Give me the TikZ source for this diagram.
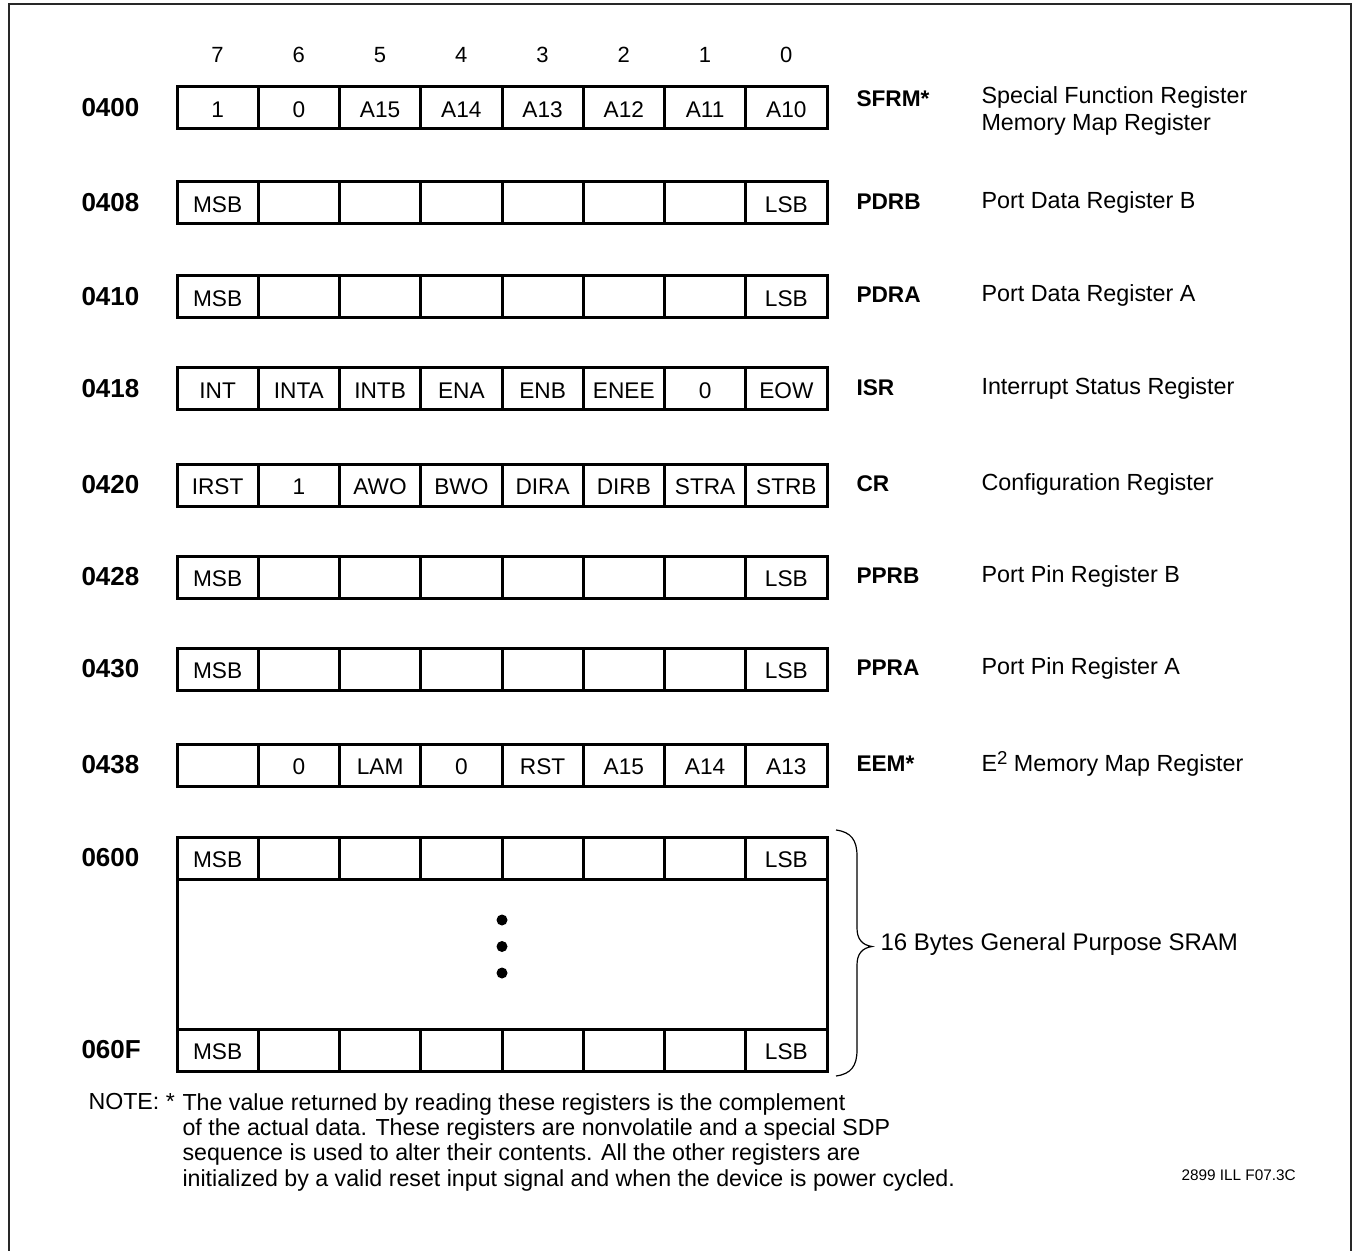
\documentclass[tikz,border=0pt]{standalone}
\usepackage{fontspec}
\setmainfont{Liberation Sans}

\tikzset{every picture/.style={line width=0.75pt}}
\tikzset{
  regline/.style={line width=2.25},
  celltxt/.style={inner sep=0.75pt, font=\fontsize{17}{20}\selectfont},
  bittxt/.style={inner sep=0.75pt, font=\fontsize{16.5}{19}\selectfont},
  adrtxt/.style={anchor=west, inner sep=0.75pt, font=\fontsize{19.5}{22}\selectfont\bfseries},
  regname/.style={anchor=west, inner sep=0.75pt, font=\fontsize{17}{20}\selectfont\bfseries},
  regdesc/.style={anchor=west, inner sep=0.75pt, align=left, font=\fontsize{17.5}{20.5}\selectfont},
  notetxt/.style={anchor=north west, inner sep=0.75pt, align=left, font=\fontsize{17.4}{19}\selectfont}
}

\begin{document}
\begin{tikzpicture}[x=0.75pt,y=0.75pt,yscale=-1,xscale=1]
\useasboundingbox (0,0) rectangle (1359,1251);

% outer frame, open at the bottom
\draw [color={rgb, 255:red, 40; green, 40; blue, 40 }][line width=1.5] (9,1251) -- (9,4) -- (1351,4) -- (1351,1251);

% bit numbers
\foreach \b [count=\i from 0] in {7,6,5,4,3,2,1,0}
  \draw (217.6+81.25*\i,55) node [bittxt] (bit\b) {\b};

% register rows
\foreach \y/\adr/\cells in {
    87/0400/{1,0,A15,A14,A13,A12,A11,A10},
    182/0408/{MSB,,,,,,,LSB},
    276/0410/{MSB,,,,,,,LSB},
    368/0418/{INT,INTA,INTB,ENA,ENB,ENEE,0,EOW},
    464/0420/{IRST,1,AWO,BWO,DIRA,DIRB,STRA,STRB},
    556/0428/{MSB,,,,,,,LSB},
    648/0430/{MSB,,,,,,,LSB},
    744/0438/{,0,LAM,0,RST,A15,A14,A13},
    837/0600/{MSB,,,,,,,LSB},
    1029/060F/{MSB,,,,,,,LSB}} {
  \draw [regline] (177,\y) rectangle (827,\y+42);
  \foreach \i in {1,...,7}
    \draw [regline] (177+81.25*\i,\y) -- (177+81.25*\i,\y+42);
  \foreach \c [count=\i from 0] in \cells
    \draw (217.6+81.25*\i,\y+22.5) node [celltxt] (c\adr-\i) {\c};
  \draw (80,\y+21) node [adrtxt] (a\adr) {\adr};
}

% sram block sides and dots
\draw [regline] (177,879) -- (177,1029);
\draw [regline] (827,879) -- (827,1029);
\fill (502,920) circle [radius=5.5];
\fill (502,946.5) circle [radius=5.5];
\fill (502,973) circle [radius=5.5];

% brace
\draw [line width=0.9]  (836,830) .. controls (851,832) and (857,840) .. (857,856) -- (857,928) .. controls (857,939) and (862,945) .. (872,946.5) .. controls (862,948) and (857,954) .. (857,965) -- (857,1050) .. controls (857,1066) and (851,1074) .. (836,1076) ;

% register names and descriptions
\draw (855,99) node [regname] (nsfrm) {SFRM*};
\draw (980,111) node [regdesc] (dsfrm) {Special Function Register\\Memory Map Register};
\draw (855,202) node [regname] (npdrb) {PDRB};
\draw (980,202) node [regdesc] (dpdrb) {Port Data Register B};
\draw (855,295) node [regname] (npdra) {PDRA};
\draw (980,295) node [regdesc] (dpdra) {Port Data Register A};
\draw (855,388) node [regname] (nisr) {ISR};
\draw (980,388) node [regdesc] (disr) {Interrupt Status Register};
\draw (855,484) node [regname] (ncr) {CR};
\draw (980,484) node [regdesc] (dcr) {Configuration Register};
\draw (855,576) node [regname] (npprb) {PPRB};
\draw (980,576) node [regdesc] (dpprb) {Port Pin Register B};
\draw (855,668) node [regname] (nppra) {PPRA};
\draw (980,668) node [regdesc] (dppra) {Port Pin Register A};
\draw (855,764) node [regname] (neem) {EEM*};
\draw (980,764) node [regdesc] (deem) {E\raisebox{0.32em}{\fontsize{14}{14}\selectfont 2} Memory Map Register};
\draw (879,944) node [regdesc, font=\fontsize{18}{21}\selectfont] (lsram) {16 Bytes General Purpose SRAM};

% note
\draw (87,1092) node [notetxt] (notehd) {NOTE: *};
\draw ([xshift=3.5]notehd.north east) node [notetxt] (notebody) {The value returned by reading these registers is the complement\\of the actual data. These registers are nonvolatile and a special SDP\\sequence is used to alter their contents. All the other registers are\\initialized by a valid reset input signal and when the device is power cycled.};
\draw (1180,1175) node [anchor=west][inner sep=0.75pt][font=\fontsize{11.5}{14}\selectfont] (figid) {2899 ILL F07.3C};
\end{tikzpicture}
\end{document}
